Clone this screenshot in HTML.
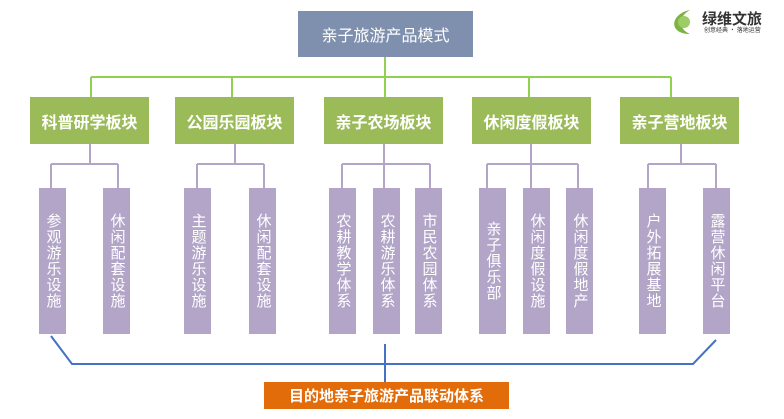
<!DOCTYPE html>
<html><head><meta charset="utf-8"><style>
body{margin:0;width:784px;height:419px;background:#fff;position:relative;overflow:hidden;font-family:"Liberation Sans","Noto Sans CJK SC",sans-serif}
.b{position:absolute;color:#fff;display:flex;align-items:center;justify-content:center;text-align:center}
.top{left:298px;top:11px;width:175px;height:46px;background:#7f8fae;font-size:16px}
.g{top:97px;height:47px;width:119px;background:#9bbb59;font-size:16px;font-weight:bold}
.p{top:188px;height:146px;width:27px;background:#b2a5c8;font-size:15px;line-height:18px;writing-mode:vertical-rl;letter-spacing:1px}
.o{left:264px;top:382px;width:245px;height:27px;background:#e36c0a;font-size:15px;font-weight:bold}
</style></head><body>
<svg width="784" height="419" style="position:absolute;left:0;top:0">
<g stroke="#92d050" stroke-width="2" fill="none">
<path d="M385 57V77M91 77H671M91 77V97M232 77V97M385 77V97M529 77V97M671 77V97"/>
</g>
<g stroke="#b2a5c8" stroke-width="2" fill="none">
<path d="M90 144V164M51 164H118M51 164V188M118 164V188"/>
<path d="M235 144V164M197 164H264M197 164V188M264 164V188"/>
<path d="M384 144V164M342 164H430M342 164V188M384 164V188M430 164V188"/>
<path d="M531 144V164M487 164H578M487 164V188M531 164V188M578 164V188"/>
<path d="M681 144V164M648 164H716M648 164V188M716 164V188"/>
</g>
<g stroke="#4472c4" stroke-width="2" fill="none">
<path d="M51 336L72 364H693L716 340M385 344V382"/>
</g>
<path d="M690 10C670 14 668 34 690 34C680 30 676 18 690 10Z" fill="#7cb342"/>
<circle cx="684" cy="22" r="6" fill="#9ccc65"/>
<text x="702" y="24" font-size="15" font-weight="bold" fill="#333" font-family="Noto Sans CJK SC,sans-serif">绿维文旅</text>
<text x="704" y="32" font-size="6" fill="#333" font-family="Noto Sans CJK SC,sans-serif">创意经典 · 落地运营</text>
</svg>
<div class="b top">亲子旅游产品模式</div>
<div class="b g" style="left:30px">科普研学板块</div>
<div class="b g" style="left:175px">公园乐园板块</div>
<div class="b g" style="left:324px">亲子农场板块</div>
<div class="b g" style="left:472px">休闲度假板块</div>
<div class="b g" style="left:620px">亲子营地板块</div>
<div class="b p" style="left:39px">参观游乐设施</div>
<div class="b p" style="left:103px">休闲配套设施</div>
<div class="b p" style="left:184px">主题游乐设施</div>
<div class="b p" style="left:249px">休闲配套设施</div>
<div class="b p" style="left:329px">农耕教学体系</div>
<div class="b p" style="left:373px">农耕游乐体系</div>
<div class="b p" style="left:415px">市民农园体系</div>
<div class="b p" style="left:479px">亲子俱乐部</div>
<div class="b p" style="left:523px">休闲度假设施</div>
<div class="b p" style="left:566px">休闲度假地产</div>
<div class="b p" style="left:639px">户外拓展基地</div>
<div class="b p" style="left:703px">露营休闲平台</div>
<div class="b o">目的地亲子旅游产品联动体系</div>
</body></html>
